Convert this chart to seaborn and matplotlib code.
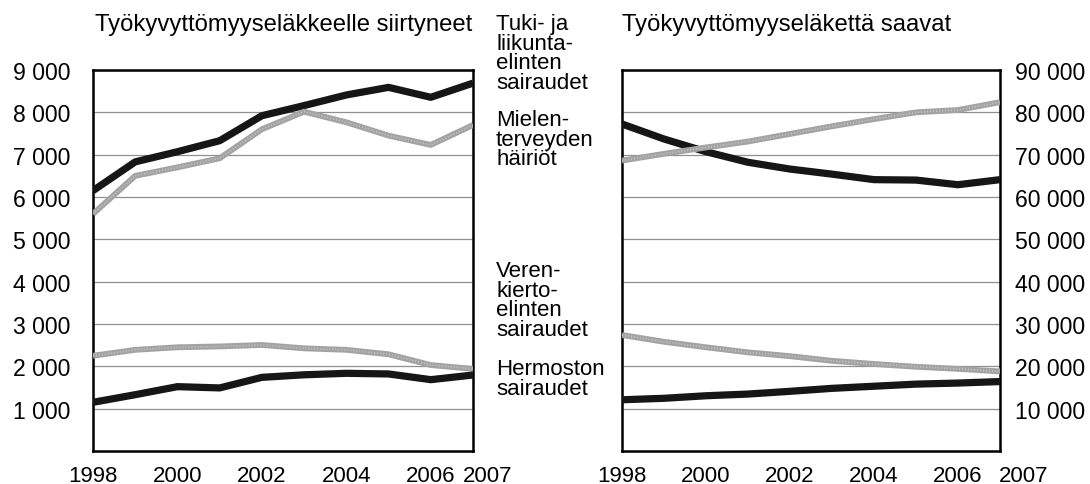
import numpy as np
import pandas as pd
import matplotlib
matplotlib.use("Agg")
import matplotlib.pyplot as plt
import matplotlib.transforms as mtransforms
import seaborn as sns

years = list(range(1998, 2008))

# Left panel: Työkyvyttömyyseläkkeelle siirtyneet
left_tuki = [6150, 6830, 7070, 7330, 7920, 8160, 8410, 8590, 8355, 8690]
left_mielen = [5600, 6500, 6700, 6915, 7600, 8015, 7765, 7450, 7230, 7700]
left_veren = [2250, 2390, 2450, 2470, 2505, 2425, 2390, 2285, 2030, 1940]
left_hermo = [1150, 1330, 1520, 1490, 1740, 1800, 1835, 1820, 1685, 1795]

# Right panel: Työkyvyttömyyseläkettä saavat
right_tuki = [77250, 73700, 70700, 68200, 66600, 65400, 64100, 64000, 62900, 64100]
right_mielen = [68600, 70200, 71700, 73100, 74900, 76700, 78400, 80000, 80550, 82400]
right_veren = [27400, 25800, 24500, 23300, 22400, 21300, 20550, 19900, 19400, 18800]
right_hermo = [12100, 12450, 13050, 13450, 14100, 14800, 15300, 15800, 16050, 16400]

series_names = ["Tuki- ja liikuntaelinten sairaudet", "Mielenterveyden häiriöt",
                "Verenkiertoelinten sairaudet", "Hermoston sairaudet"]
left_ticks = [1000, 2000, 3000, 4000, 5000, 6000, 7000, 8000, 9000]
right_ticks = [10000, 20000, 30000, 40000, 50000, 60000, 70000, 80000, 90000]
xtick_labels = ["1998", "", "2000", "", "2002", "", "2004", "", "2006", "2007"]

title_left = "Työkyvyttömyyseläkkeelle siirtyneet"
title_right = "Työkyvyttömyyseläkettä saavat"
mid_labels = [("Tuki- ja\nliikunta-\nelinten\nsairaudet", 14),
              ("Mielen-\nterveyden\nhäiriöt", 110),
              ("Veren-\nkierto-\nelinten\nsairaudet", 261),
              ("Hermoston\nsairaudet", 359)]

sns.set_style("white")
plt.rcParams['font.family'] = ['Liberation Sans', 'DejaVu Sans']
plt.rcParams['text.color'] = 'black'
plt.rcParams['xtick.color'] = 'black'
plt.rcParams['ytick.color'] = 'black'
plt.rcParams['xtick.labelcolor'] = 'black'
plt.rcParams['ytick.labelcolor'] = 'black'

def long_df(vals):
    rows = []
    for name, v in zip(series_names, vals):
        for y, val in zip(years, v):
            rows.append({"year": y, "value": val, "series": name})
    return pd.DataFrame(rows)

palette = {series_names[0]: "#161616", series_names[1]: "#a3a3a3",
           series_names[2]: "#a3a3a3", series_names[3]: "#161616"}
widths = {series_names[0]: 5.2, series_names[1]: 4.2,
          series_names[2]: 4.2, series_names[3]: 5.2}

fig = plt.figure(figsize=(10.9, 4.85), dpi=100)
W, H = 1090, 485
axL = fig.add_axes([93 / W, (H - 452) / H, 380 / W, 381 / H])
axR = fig.add_axes([622 / W, (H - 452) / H, 378 / W, 381 / H])

def draw(ax, vals, ymax, ticks, right=False, off2007=0.145):
    df = long_df(vals)
    for name in series_names:
        sub = df[df.series == name]
        sns.lineplot(data=sub, x="year", y="value", ax=ax, color=palette[name],
                     linewidth=widths[name], legend=False, zorder=3,
                     solid_capstyle="butt", solid_joinstyle="round")
        if palette[name] != "#161616":
            # textured look of grey lines
            sns.lineplot(data=sub, x="year", y="value", ax=ax, color="#c8c8c8",
                         linewidth=1.2, legend=False, zorder=4,
                         linestyle=(0, (0.6, 1.2)))
    ax.set_xlim(1998, 2007)
    ax.set_ylim(0, ymax)
    ax.set_yticks(ticks)
    ax.set_yticklabels([f"{t:,}".replace(",", " ") for t in ticks], fontsize=16.6, color="black")
    ax.set_xticks(years)
    ax.set_xticklabels(xtick_labels, fontsize=16, color="black")
    for t in ticks:
        ax.axhline(t, color="#909090", linewidth=0.9, zorder=1)
    ax.set_xlabel("")
    ax.set_ylabel("")
    for s in ax.spines.values():
        s.set_visible(True)
        s.set_color("black")
        s.set_linewidth(1.8)
    ax.tick_params(axis="x", direction="out", length=7, width=1.6, color="black", pad=3)
    ax.tick_params(axis="y", length=0, pad=16.5 if not right else 10.5)
    if right:
        ax.yaxis.tick_right()
        ax.tick_params(axis="y", length=0)
    lab = ax.get_xticklabels()[-1]
    lab.set_transform(lab.get_transform() + mtransforms.ScaledTranslation(off2007, 0, fig.dpi_scale_trans))

draw(axL, [left_tuki, left_mielen, left_veren, left_hermo], 9000, left_ticks, off2007=0.145)
draw(axR, [right_tuki, right_mielen, right_veren, right_hermo], 90000, right_ticks, right=True, off2007=0.24)

fig.text(95 / W, 1 - 25 / H, title_left, fontsize=17.2, va="center", ha="left", color="black")
fig.text(622 / W, 1 - 25 / H, title_right, fontsize=17.2, va="center", ha="left", color="black")
for txt, ytop in mid_labels:
    fig.text(496 / W, 1 - ytop / H, txt, fontsize=16, va="top", ha="left",
             linespacing=0.92, color="black")

fig.savefig("out.png", dpi=100)
